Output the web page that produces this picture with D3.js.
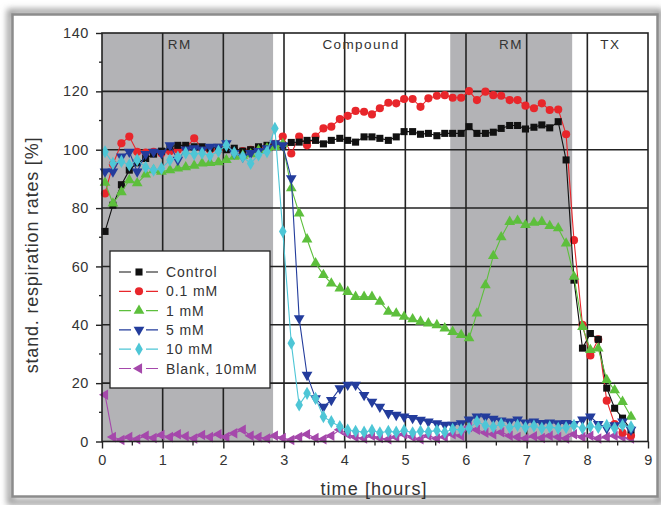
<!DOCTYPE html>
<html>
<head>
<meta charset="utf-8">
<script src="https://cdn.jsdelivr.net/npm/d3@7"></script>
<style>
  html, body { margin: 0; padding: 0; background: #ffffff; }
  svg { display: block; font-family: "Liberation Sans", Arial, sans-serif; }
</style>
</head>
<body>
<svg id="chart" width="661" height="505"></svg>
<script>
// Sampling times (hours), one reading every 8 minutes
const hours = [0.05, 0.18, 0.32, 0.45, 0.58, 0.72, 0.85, 0.98, 1.12, 1.25,
  1.38, 1.52, 1.65, 1.78, 1.92, 2.05, 2.18, 2.32, 2.45, 2.58,
  2.72, 2.85, 2.98, 3.12, 3.25, 3.38, 3.52, 3.65, 3.78, 3.92,
  4.05, 4.18, 4.32, 4.45, 4.58, 4.72, 4.85, 4.98, 5.12, 5.25,
  5.38, 5.52, 5.65, 5.78, 5.92, 6.05, 6.18, 6.32, 6.45, 6.58,
  6.72, 6.85, 6.98, 7.12, 7.25, 7.38, 7.52, 7.65, 7.78, 7.92,
  8.05, 8.18, 8.32, 8.45, 8.58, 8.72];

// Standardised respiration rates [%]
const control = [72, 81, 88, 93, 95.5, 97, 98.5, 99.5, 101, 101.5,
  101.5, 101, 101, 100.5, 100.8, 100, 100.5, 99.5, 100, 101,
  101.5, 101.5, 101.5, 102.5, 102.6, 103.2, 103.2, 102, 103.2, 103.9,
  103.2, 102.6, 104.4, 104.4, 103.9, 103.2, 104.4, 106.2, 106.2, 105.3,
  105.6, 104.8, 105.6, 105.6, 105.6, 107.9, 105.6, 105.6, 106, 107.3,
  108.3, 108.3, 107.1, 107.7, 108.5, 107.5, 109.6, 96.5, 55.3, 32,
  37, 35, 18.3, 11.4, 8, 4];
const mM01 = [85, 95, 102.2, 104.5, 99.3, 99, 99.3, 98.8, 99.5, 100,
  100.5, 103.9, 100.5, 100, 100, 100.5, 100, 99.5, 100, 100.5,
  101, 102, 104.5, 98.7, 104.5, 101.5, 104.5, 107.3, 107.9, 110.5,
  111.6, 113.3, 113, 112.1, 114.2, 116.1, 115.9, 117.4, 117.4, 114.7,
  117.6, 118.5, 118.7, 117.8, 117.8, 120.1, 117, 119.9, 118.7, 118.5,
  117, 117, 115.1, 114.2, 115.9, 113.6, 113.8, 105.3, 69, 40,
  29.5, 35, 14, 6, 3, 2];
const mM1 = [88.7, 81.6, 85.5, 89.6, 88.5, 91.5, 93, 92.5, 93, 93.6,
  94, 94.5, 95.3, 95.5, 95.7, 96.5, 97.6, 98, 98.5, 99.8,
  100.5, 101, 102, 86.8, 78.2, 69.3, 61.1, 57.1, 54.2, 52.5,
  51.3, 49.6, 49.6, 49.6, 47.9, 44.5, 43.9, 42.8, 41.9, 41.1,
  40.5, 39.9, 38.8, 37.6, 36.5, 35.4, 43.9, 53.6, 63.6, 70,
  75.3, 75.7, 74.2, 75, 75.3, 73.9, 73.1, 67.9, 56.5, 39.3,
  31.4, 31.9, 21.1, 17.6, 13.6, 8.5];
const mM5 = [92.5, 92.5, 97.6, 99.3, 92.5, 98.5, 99.3, 98.8, 101.5, 96.5,
  100, 100.5, 100, 101, 101, 102.2, 98.8, 97.6, 98.8, 99.5,
  100.5, 102.2, 101.5, 90.2, 42.2, 22.8, 14.8, 11.9, 14.2, 18.2,
  19.4, 19.4, 15.9, 13.6, 11.9, 9.7, 9.1, 8.5, 8, 7.4,
  6.8, 6.2, 5.7, 5.7, 6.2, 7.5, 8.5, 8.5, 7.8, 7.2,
  6.8, 7.5, 6.5, 6.8, 6.3, 6.5, 6.2, 6.3, 6, 7.5,
  8.5, 6, 4.5, 5.5, 6.8, 4];
const mM10 = [99.3, 95.3, 96, 94.8, 96.5, 94, 93, 93.6, 96.5, 97.5,
  98.9, 98.5, 98.8, 98, 99.5, 101.5, 99, 97.6, 95.3, 98.2,
  99.3, 107.3, 72, 33.7, 12.5, 16.5, 14.8, 8.5, 6.8, 5.1,
  3.9, 3.5, 3.2, 3.8, 3, 3.5, 3.2, 3.8, 3, 3.5,
  3.3, 3.8, 3.2, 4.2, 4, 4.5, 6.8, 5.5, 5, 6,
  4.8, 5.5, 4.8, 5.3, 4.5, 5, 4.5, 4.8, 5.5, 4.5,
  5.2, 4.8, 5.5, 4.5, 5.5, 5];
const blank10 = [16, 1.5, 0.5, 1.5, 0.8, 2, 1.2, 2.2, 1.5, 2.5,
  1.8, 1, 2.2, 1.5, 2.5, 1.5, 2.8, 4, 2, 1.5,
  1, 2, 1.2, 0.5, 1.5, 2.5, 1.2, 0.8, 2, 4,
  2.5, 1.5, 1, 2, 1.2, 0.8, 1.5, 2.5, 1.5, 0.8,
  2, 1, 1.5, 2.5, 2, 5, 4, 3, 2.5, 3.2,
  2, 1.5, 1, 1.8, 1.2, 2, 1.5, 1, 2.5, 1.5,
  2, 1, 1.5, 2, 1.5, 1];

const seriesNames = ["Control", "0.1 mM", "1 mM", "5 mM", "10 mM", "Blank, 10mM"];
const seriesColors = ["#111111", "#e8262b", "#5dbf3c", "#233c9c", "#4ec6d6", "#a548ab"];
const seriesValues = [control, mM01, mM1, mM5, mM10, blank10];
const seriesShapes = ["square", "circle", "up", "down", "diamond", "left"];

// Treatment phases shaded / labelled across the top
const phaseLabels = ["RM", "Compound", "RM", "TX"];
const phaseLabelAt = [1.28, 4.27, 6.74, 8.38];
const shadedSpans = [[0, 2.82], [5.74, 7.75]];

const xTicks = [0, 1, 2, 3, 4, 5, 6, 7, 8, 9];
const yTicks = [0, 20, 40, 60, 80, 100, 120, 140];

const svg = d3.select("#chart");
const pLeft = 102, pRight = 648, pTop = 33, pBottom = 441.5;
const ink = "#333333";

const x = d3.scaleLinear().domain([0, 9]).range([pLeft, pRight]);
const y = d3.scaleLinear().domain([0, 140]).range([pBottom, pTop]);

// Framed panel with a soft drop shadow
const defs = svg.append("defs");
const blur = defs.append("filter").attr("id", "soft").attr("x", "-5%").attr("y", "-5%")
  .attr("width", "110%").attr("height", "110%");
blur.append("feGaussianBlur").attr("stdDeviation", 3);
svg.append("rect").attr("x", 10).attr("y", 12).attr("width", 650).attr("height", 490)
  .attr("fill", "none").attr("stroke", "#9a9a9a").attr("stroke-width", 6)
  .attr("filter", "url(#soft)");
svg.append("rect").attr("x", 12.5).attr("y", 14.5).attr("width", 645).attr("height", 482)
  .attr("fill", "#ffffff").attr("stroke", "#8c8c8c").attr("stroke-width", 2.5);

// Shaded treatment spans
svg.append("g").selectAll("rect").data(shadedSpans).join("rect")
  .attr("x", d => x(d[0])).attr("y", pTop)
  .attr("width", d => x(d[1]) - x(d[0])).attr("height", pBottom - pTop)
  .attr("fill", "#b3b3b6");

// Grid
const grid = svg.append("g").attr("stroke", "#222222").attr("stroke-width", 1.6);
grid.selectAll("line.vx").data(xTicks.slice(1, -1)).join("line")
  .attr("x1", d => x(d)).attr("x2", d => x(d)).attr("y1", pTop).attr("y2", pBottom);
grid.selectAll("line.hy").data(yTicks.slice(1, -1)).join("line")
  .attr("y1", d => y(d)).attr("y2", d => y(d)).attr("x1", pLeft).attr("x2", pRight);

// Phase labels
svg.append("g").selectAll("text").data(phaseLabels).join("text")
  .attr("x", (d, i) => x(phaseLabelAt[i])).attr("y", 49)
  .attr("text-anchor", "middle").attr("font-size", 13.5).attr("letter-spacing", 1.4)
  .attr("fill", ink).text(d => d);

// Marker shapes
const symbolFor = {
  square: d3.symbol(d3.symbolSquare, 50),
  circle: d3.symbol(d3.symbolCircle, 52),
  up: d3.symbol(d3.symbolTriangle, 50),
  down: d3.symbol(d3.symbolTriangle, 50),
  diamond: d3.symbol(d3.symbolDiamond, 50),
  left: d3.symbol(d3.symbolTriangle, 48)
};
const rotationFor = { square: 0, circle: 0, up: 0, down: 180, diamond: 0, left: -90 };

const line = d3.line().x(d => x(d[0])).y(d => y(d[1]));

const drawOrder = [5, 1, 0, 2, 3, 4];
const plot = svg.append("g");
drawOrder.forEach(k => {
  const pts = hours.map((t, i) => [t, seriesValues[k][i]]);
  const g = plot.append("g");
  g.append("path").datum(pts).attr("d", line)
    .attr("fill", "none").attr("stroke", seriesColors[k]).attr("stroke-width", 1.1);
  g.selectAll("path.m").data(pts).join("path").attr("class", "m")
    .attr("d", symbolFor[seriesShapes[k]]())
    .attr("transform", d => `translate(${x(d[0])},${y(d[1])}) rotate(${rotationFor[seriesShapes[k]]})`)
    .attr("fill", seriesColors[k]);
});

// Plot frame
svg.append("rect").attr("x", pLeft).attr("y", pTop).attr("width", pRight - pLeft).attr("height", pBottom - pTop)
  .attr("fill", "none").attr("stroke", "#222222").attr("stroke-width", 1.6);

// Axes
const xAxis = svg.append("g").attr("transform", `translate(0,${pBottom})`)
  .call(d3.axisBottom(x).tickValues(xTicks).tickFormat(d3.format("d")).tickSize(7).tickPadding(6));
const yAxis = svg.append("g").attr("transform", `translate(${pLeft},0)`)
  .call(d3.axisLeft(y).tickValues(yTicks).tickFormat(d3.format("d")).tickSize(6).tickPadding(7));
[xAxis, yAxis].forEach(a => {
  a.select(".domain").remove();
  a.selectAll(".tick line").attr("stroke", "#222222").attr("stroke-width", 1.4);
  a.selectAll(".tick text").attr("font-size", 14.5).attr("fill", ink).attr("letter-spacing", 0.6)
    .attr("font-family", "'Liberation Sans', Arial, sans-serif");
});
// Minor ticks
const minorX = d3.range(0.5, 9, 1);
svg.append("g").selectAll("line").data(minorX).join("line")
  .attr("x1", d => x(d)).attr("x2", d => x(d)).attr("y1", pBottom).attr("y2", pBottom + 4)
  .attr("stroke", "#222222").attr("stroke-width", 1.3);
const minorY = d3.range(10, 140, 20);
svg.append("g").selectAll("line").data(minorY).join("line")
  .attr("y1", d => y(d)).attr("y2", d => y(d)).attr("x1", pLeft - 3).attr("x2", pLeft)
  .attr("stroke", "#222222").attr("stroke-width", 1.3);

// Axis titles
svg.append("text").attr("x", 374).attr("y", 495).attr("text-anchor", "middle")
  .attr("font-size", 18).attr("letter-spacing", 1.1).attr("fill", ink).text("time [hours]");
svg.append("text").attr("transform", "translate(38,255) rotate(-90)")
  .attr("text-anchor", "middle").attr("font-size", 18).attr("letter-spacing", 0.8).attr("fill", ink)
  .text("stand. respiration rates [%]");

// Legend
const lg = svg.append("g").attr("transform", "translate(110,251)");
lg.append("rect").attr("width", 160).attr("height", 137)
  .attr("fill", "#ffffff").attr("stroke", "#222222").attr("stroke-width", 1.3);
seriesNames.forEach((name, k) => {
  const yy = 21 + k * 19.3;
  lg.append("line").attr("x1", 9).attr("x2", 48).attr("y1", yy).attr("y2", yy)
    .attr("stroke", seriesColors[k]).attr("stroke-width", 1.2).attr("stroke-dasharray", "12,15");
  lg.append("path").attr("d", symbolFor[seriesShapes[k]]())
    .attr("transform", `translate(29,${yy}) rotate(${rotationFor[seriesShapes[k]]})`)
    .attr("fill", seriesColors[k]);
  lg.append("text").attr("x", 56).attr("y", yy + 5).attr("font-size", 14).attr("letter-spacing", 0.9)
    .attr("fill", ink).text(name);
});
</script>
</body>
</html>
